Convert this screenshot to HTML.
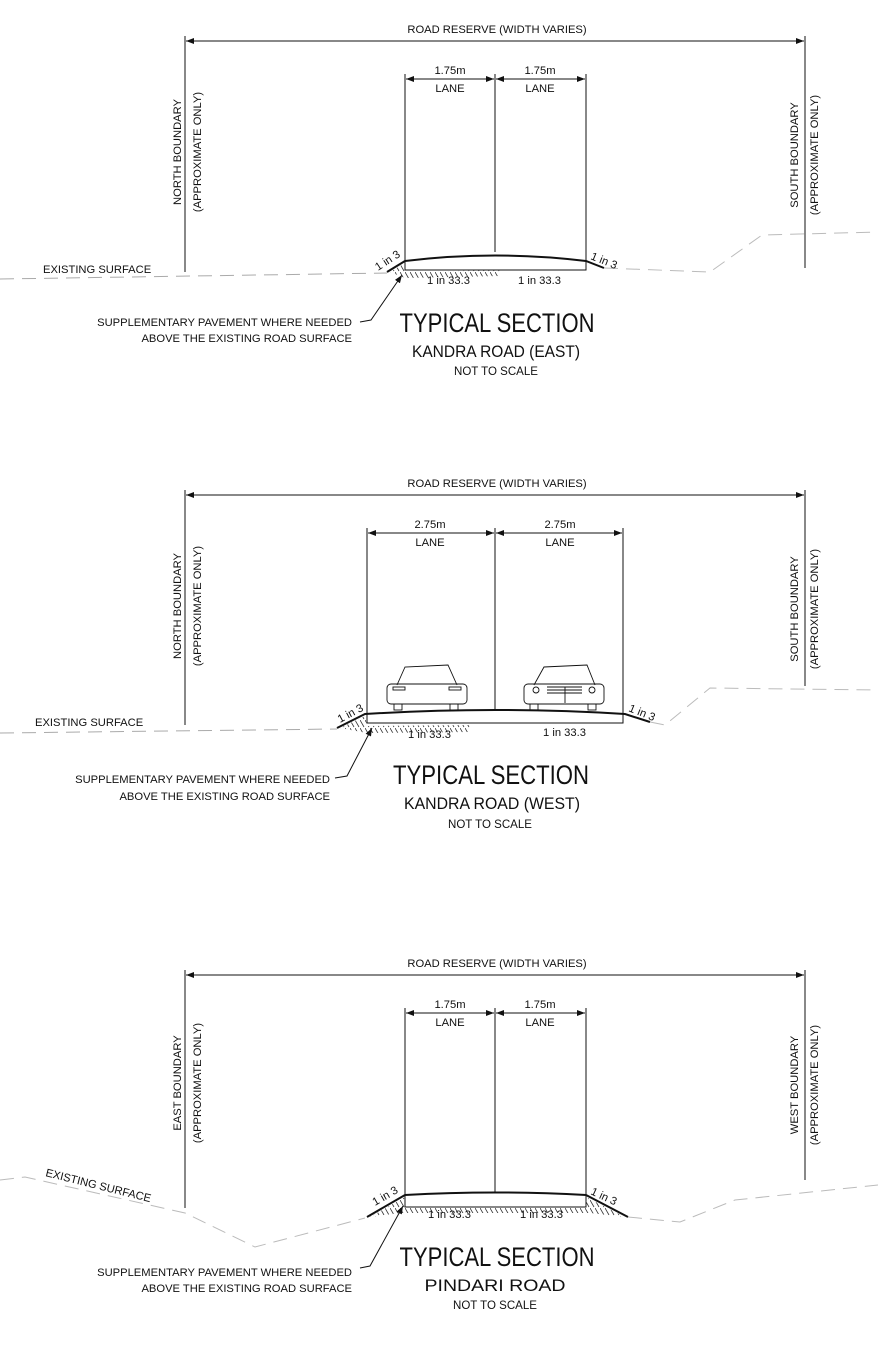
<!DOCTYPE html>
<html><head><meta charset="utf-8"><style>
html,body{margin:0;padding:0;background:#fff;}
svg{display:block;}
text{font-family:"Liberation Sans",sans-serif;fill:#111;}
.s{font-size:11.2px;}
.big{font-size:27px;}
.mid{font-size:17px;}
.ns{font-size:11.5px;}
</style></head><body>
<svg width="878" height="1345" viewBox="0 0 878 1345" xmlns="http://www.w3.org/2000/svg">
<defs>
<marker id="a" markerWidth="8" markerHeight="6" refX="8" refY="3" orient="auto-start-reverse"><path d="M0,0 L8,3 L0,6 z" fill="#111"/></marker>
<pattern id="h" width="5" height="8" patternUnits="userSpaceOnUse"><line x1="0" y1="0" x2="4" y2="7" stroke="#333" stroke-width="0.8"/></pattern>
</defs>
<g stroke="#111" fill="none" stroke-width="1">

<line x1="186" y1="41" x2="804" y2="41" marker-start="url(#a)" marker-end="url(#a)"/>
<line x1="185" y1="36" x2="185" y2="272"/>
<line x1="805" y1="36" x2="805" y2="268"/>
<line x1="406" y1="79" x2="494" y2="79" marker-start="url(#a)" marker-end="url(#a)"/>
<line x1="496" y1="79" x2="585" y2="79" marker-start="url(#a)" marker-end="url(#a)"/>
<line x1="405" y1="74" x2="405" y2="261"/>
<line x1="495" y1="74" x2="495" y2="252"/>
<line x1="586" y1="74" x2="586" y2="261"/>
<path d="M387,272 L405,261 Q495,250 586,261 L604,268" stroke-width="2"/>
<path d="M405,261 L405,270 L586,270 L586,261"/>
<path d="M390,272 L405,263 L405,272 L500,270 L500,276 L405,278 z" fill="url(#h)" stroke="none"/>
<path d="M0,279 L387,273" stroke="#aaa" stroke-dasharray="14,8"/>
<path d="M604,268 L710,272 L762,235 L878,232" stroke="#bbb" stroke-dasharray="14,8"/>
<path d="M402,275 L371,320 L360,322" marker-start="url(#a)"/>

<line x1="186" y1="495" x2="804" y2="495" marker-start="url(#a)" marker-end="url(#a)"/>
<line x1="185" y1="490" x2="185" y2="725"/>
<line x1="805" y1="490" x2="805" y2="686"/>
<line x1="368" y1="533" x2="494" y2="533" marker-start="url(#a)" marker-end="url(#a)"/>
<line x1="496" y1="533" x2="622" y2="533" marker-start="url(#a)" marker-end="url(#a)"/>
<line x1="367" y1="528" x2="367" y2="714"/>
<line x1="495" y1="528" x2="495" y2="709"/>
<line x1="623" y1="528" x2="623" y2="714"/>
<path d="M337,728 L365,714 Q495,706 625,714 L650,722" stroke-width="2"/>
<path d="M367,714 L367,723 L623,723 L623,714"/>
<path d="M340,728 L365,716 L367,726 L470,725 L470,732 L367,733 z" fill="url(#h)" stroke="none"/>
<path d="M0,733 L337,729" stroke="#aaa" stroke-dasharray="14,8"/>
<path d="M650,722 L665,725 L710,688 L878,690" stroke="#bbb" stroke-dasharray="14,8"/>
<path d="M372,728 L347,776 L335,778" marker-start="url(#a)"/>
<g stroke-width="0.9">
<path d="M397,685 L405,667 L448,665 L457,685"/>
<rect x="387" y="684" width="80" height="20" rx="4"/>
<rect x="393" y="687" width="12" height="3"/><rect x="449" y="687" width="12" height="3"/>
<rect x="394" y="704" width="8" height="6"/><rect x="450" y="704" width="8" height="6"/>
<path d="M534,685 L544,667 L587,665 L595,685"/>
<rect x="524" y="684" width="80" height="20" rx="4"/>
<circle cx="536" cy="690" r="3"/><circle cx="592" cy="690" r="3"/>
<path d="M547,687 L582,687 M547,690 L582,690 M547,693 L582,693 M565,687 L565,703"/>
<rect x="530" y="704" width="8" height="6"/><rect x="588" y="704" width="8" height="6"/>
</g>

<line x1="186" y1="975" x2="804" y2="975" marker-start="url(#a)" marker-end="url(#a)"/>
<line x1="185" y1="970" x2="185" y2="1208"/>
<line x1="805" y1="970" x2="805" y2="1180"/>
<line x1="406" y1="1013" x2="494" y2="1013" marker-start="url(#a)" marker-end="url(#a)"/>
<line x1="496" y1="1013" x2="585" y2="1013" marker-start="url(#a)" marker-end="url(#a)"/>
<line x1="405" y1="1008" x2="405" y2="1195"/>
<line x1="495" y1="1008" x2="495" y2="1192"/>
<line x1="586" y1="1008" x2="586" y2="1195"/>
<path d="M367,1217 L405,1195 Q495,1190 586,1195 L628,1217" stroke-width="2"/>
<path d="M405,1195 L405,1207 L586,1207 L586,1195"/>
<path d="M370,1217 L405,1197 L405,1208 L586,1208 L586,1197 L625,1217 L590,1213 L400,1213 z" fill="url(#h)" stroke="none"/>
<path d="M0,1180 L25,1177 L185,1213 L255,1247 L365,1218" stroke="#bbb" stroke-dasharray="14,8"/>
<path d="M628,1217 L680,1222 L735,1200 L878,1185" stroke="#bbb" stroke-dasharray="14,8"/>
<path d="M403,1206 L370,1266 L360,1268" marker-start="url(#a)"/>
</g>

<text class="s" x="497" y="33" text-anchor="middle">ROAD RESERVE (WIDTH VARIES)</text>
<text class="s" x="450" y="74" text-anchor="middle">1.75m</text>
<text class="s" x="450" y="92" text-anchor="middle">LANE</text>
<text class="s" x="540" y="74" text-anchor="middle">1.75m</text>
<text class="s" x="540" y="92" text-anchor="middle">LANE</text>
<text class="s" transform="translate(181,152) rotate(-90)" text-anchor="middle">NORTH BOUNDARY</text>
<text class="s" transform="translate(201,152) rotate(-90)" text-anchor="middle">(APPROXIMATE ONLY)</text>
<text class="s" transform="translate(798,155) rotate(-90)" text-anchor="middle">SOUTH BOUNDARY</text>
<text class="s" transform="translate(818,155) rotate(-90)" text-anchor="middle">(APPROXIMATE ONLY)</text>
<text class="s" x="43" y="273">EXISTING SURFACE</text>
<text class="s" transform="translate(378,271) rotate(-33)">1 in 3</text>
<text class="s" transform="translate(590,259) rotate(22)">1 in 3</text>
<text class="s" x="427" y="284">1 in 33.3</text>
<text class="s" x="518" y="284">1 in 33.3</text>
<text class="s" x="352" y="326" text-anchor="end">SUPPLEMENTARY PAVEMENT WHERE NEEDED</text>
<text class="s" x="352" y="342" text-anchor="end">ABOVE THE EXISTING ROAD SURFACE</text>
<text class="big" x="497" y="332" text-anchor="middle" textLength="195" lengthAdjust="spacingAndGlyphs">TYPICAL SECTION</text>
<text class="mid" x="496" y="357" text-anchor="middle" textLength="168" lengthAdjust="spacingAndGlyphs">KANDRA ROAD (EAST)</text>
<text class="ns" x="496" y="375" text-anchor="middle" textLength="84" lengthAdjust="spacingAndGlyphs">NOT TO SCALE</text>

<text class="s" x="497" y="487" text-anchor="middle">ROAD RESERVE (WIDTH VARIES)</text>
<text class="s" x="430" y="528" text-anchor="middle">2.75m</text>
<text class="s" x="430" y="546" text-anchor="middle">LANE</text>
<text class="s" x="560" y="528" text-anchor="middle">2.75m</text>
<text class="s" x="560" y="546" text-anchor="middle">LANE</text>
<text class="s" transform="translate(181,606) rotate(-90)" text-anchor="middle">NORTH BOUNDARY</text>
<text class="s" transform="translate(201,606) rotate(-90)" text-anchor="middle">(APPROXIMATE ONLY)</text>
<text class="s" transform="translate(798,609) rotate(-90)" text-anchor="middle">SOUTH BOUNDARY</text>
<text class="s" transform="translate(818,609) rotate(-90)" text-anchor="middle">(APPROXIMATE ONLY)</text>
<text class="s" x="35" y="726">EXISTING SURFACE</text>
<text class="s" transform="translate(340,723) rotate(-28)">1 in 3</text>
<text class="s" transform="translate(628,711) rotate(22)">1 in 3</text>
<text class="s" x="408" y="738">1 in 33.3</text>
<text class="s" x="543" y="736">1 in 33.3</text>
<text class="s" x="330" y="783" text-anchor="end">SUPPLEMENTARY PAVEMENT WHERE NEEDED</text>
<text class="s" x="330" y="800" text-anchor="end">ABOVE THE EXISTING ROAD SURFACE</text>
<text class="big" x="491" y="784" text-anchor="middle" textLength="196" lengthAdjust="spacingAndGlyphs">TYPICAL SECTION</text>
<text class="mid" x="492" y="809" text-anchor="middle" textLength="176" lengthAdjust="spacingAndGlyphs">KANDRA ROAD (WEST)</text>
<text class="ns" x="490" y="828" text-anchor="middle" textLength="84" lengthAdjust="spacingAndGlyphs">NOT TO SCALE</text>

<text class="s" x="497" y="967" text-anchor="middle">ROAD RESERVE (WIDTH VARIES)</text>
<text class="s" x="450" y="1008" text-anchor="middle">1.75m</text>
<text class="s" x="450" y="1026" text-anchor="middle">LANE</text>
<text class="s" x="540" y="1008" text-anchor="middle">1.75m</text>
<text class="s" x="540" y="1026" text-anchor="middle">LANE</text>
<text class="s" transform="translate(181,1083) rotate(-90)" text-anchor="middle">EAST BOUNDARY</text>
<text class="s" transform="translate(201,1083) rotate(-90)" text-anchor="middle">(APPROXIMATE ONLY)</text>
<text class="s" transform="translate(798,1085) rotate(-90)" text-anchor="middle">WEST BOUNDARY</text>
<text class="s" transform="translate(818,1085) rotate(-90)" text-anchor="middle">(APPROXIMATE ONLY)</text>
<text class="s" transform="translate(45,1176) rotate(14)">EXISTING SURFACE</text>
<text class="s" transform="translate(375,1206) rotate(-30)">1 in 3</text>
<text class="s" transform="translate(590,1194) rotate(25)">1 in 3</text>
<text class="s" x="428" y="1218">1 in 33.3</text>
<text class="s" x="520" y="1218">1 in 33.3</text>
<text class="s" x="352" y="1276" text-anchor="end">SUPPLEMENTARY PAVEMENT WHERE NEEDED</text>
<text class="s" x="352" y="1292" text-anchor="end">ABOVE THE EXISTING ROAD SURFACE</text>
<text class="big" x="497" y="1266" text-anchor="middle" textLength="195" lengthAdjust="spacingAndGlyphs">TYPICAL SECTION</text>
<text class="mid" x="495" y="1291" text-anchor="middle" textLength="141" lengthAdjust="spacingAndGlyphs">PINDARI ROAD</text>
<text class="ns" x="495" y="1309" text-anchor="middle" textLength="84" lengthAdjust="spacingAndGlyphs">NOT TO SCALE</text>
</svg>
</body></html>
